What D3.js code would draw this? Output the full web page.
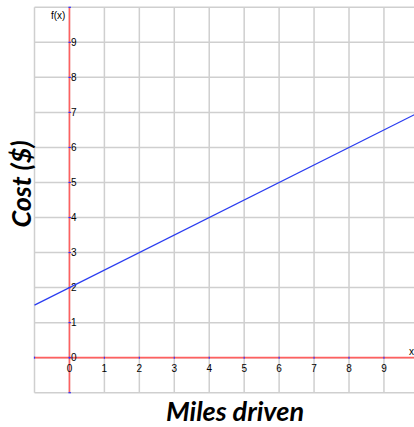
<!DOCTYPE html>
<html><head><meta charset="utf-8">
<script src="https://cdn.jsdelivr.net/npm/d3@7"></script>
<style>body{margin:0;background:#fff}svg{display:block}</style>
</head><body>
<svg id="c" width="414" height="427"></svg>
<script>
const xTicks = [0,1,2,3,4,5,6,7,8,9];
const yTicks = [0,1,2,3,4,5,6,7,8,9];
const gridX = [-1,0,1,2,3,4,5,6,7,8,9,10];
const gridY = [-1,0,1,2,3,4,5,6,7,8,9,10];
const lineX = [-1,10];
const lineY = [1.5,7];
const xTitle = "Miles driven";
const yTitle = "Cost ($)";

const svg = d3.select("#c");
const x = d3.scaleLinear().domain([-1,10]).range([34.5,418.9]);
const y = d3.scaleLinear().domain([-1,10]).range([392.7,7.3]);

const g = svg.append("g");
g.selectAll(".gx").data(gridX).join("line")
  .attr("x1",d=>x(d)).attr("x2",d=>x(d)).attr("y1",y(10)).attr("y2",y(-1))
  .attr("stroke","#cfcfcf").attr("stroke-width",1.5);
g.selectAll(".gy").data(gridY).join("line")
  .attr("y1",d=>y(d)).attr("y2",d=>y(d)).attr("x1",x(-1)).attr("x2",x(10))
  .attr("stroke","#cfcfcf").attr("stroke-width",1.5);

// axes
g.append("line").attr("x1",x(-1)).attr("x2",414).attr("y1",y(0)).attr("y2",y(0))
  .attr("stroke","#ff6060").attr("stroke-width",1.6);
g.append("line").attr("x1",x(0)).attr("x2",x(0)).attr("y1",y(10)).attr("y2",y(-1))
  .attr("stroke","#ff6060").attr("stroke-width",1.6);

// blue tick marks
g.selectAll(".tx").data(gridX).join("line")
  .attr("x1",d=>x(d)).attr("x2",d=>x(d)).attr("y1",y(0)-1).attr("y2",y(0)+1)
  .attr("stroke","#3030ff").attr("stroke-width",1.2);
g.selectAll(".ty").data(gridY).join("line")
  .attr("y1",d=>y(d)).attr("y2",d=>y(d)).attr("x1",x(0)-1).attr("x2",x(0)+1.5)
  .attr("stroke","#3030ff").attr("stroke-width",1.2);

// tick labels
const tf = "Liberation Sans, Arial, sans-serif";
g.selectAll(".lx").data(xTicks).join("text")
  .attr("x",d=>x(d)).attr("y",y(0)+14).attr("text-anchor","middle")
  .attr("font-family",tf).attr("font-size",10).attr("fill","#000")
  .text(d=>d);
g.selectAll(".ly").data(yTicks).join("text")
  .attr("x",x(0)+1.5).attr("y",d=>y(d)+3.5).attr("text-anchor","start")
  .attr("font-family",tf).attr("font-size",10).attr("fill","#000")
  .text(d=>d);
g.append("text").attr("x",x(0)-4).attr("y",y(10)+12).attr("text-anchor","end")
  .attr("font-family",tf).attr("font-size",10).attr("fill","#000").text("f(x)");
g.append("text").attr("x",409).attr("y",y(0)-3).attr("text-anchor","start")
  .attr("font-family",tf).attr("font-size",10).attr("fill","#000").text("x");

// function line
const pts = lineX.map((d,i)=>[d,lineY[i]]);
g.append("path").datum(pts)
  .attr("d",d3.line().x(d=>x(d[0])).y(d=>y(d[1])))
  .attr("stroke","#2a3cf0").attr("stroke-width",1.2).attr("fill","none");

// titles
svg.append("text").attr("x",235).attr("y",421).attr("text-anchor","middle")
  .attr("font-family","Lato, 'Open Sans', sans-serif").attr("font-weight","bold").attr("font-style","italic")
  .attr("font-size",27).attr("fill","#000").text(xTitle);
svg.append("text").attr("transform","translate(31,184) rotate(-90)").attr("text-anchor","middle")
  .attr("font-family","Lato, 'Open Sans', sans-serif").attr("font-weight","bold").attr("font-style","italic")
  .attr("font-size",27).attr("fill","#000").text(yTitle);
</script>
</body></html>
